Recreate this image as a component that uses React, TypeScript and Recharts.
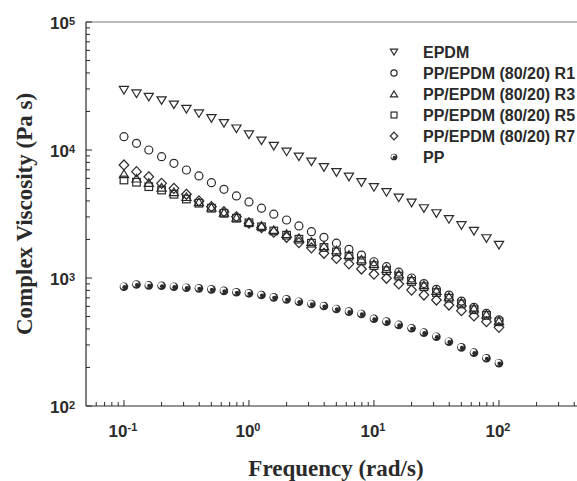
import { ScatterChart, Scatter, XAxis, YAxis, ReferenceLine } from "recharts";

// angular frequency (rad/s), 10 points per decade
const FREQ = [
   0.1, 0.126, 0.158, 0.2, 0.251, 0.316, 0.398, 0.501, 0.631, 0.794,
   1, 1.26, 1.58, 2, 2.51, 3.16, 3.98, 5.01, 6.31, 7.94,
   10, 12.6, 15.8, 20, 25.1, 31.6, 39.8, 50.1, 63.1, 79.4, 100,
];

// complex viscosity (Pa s)
const EPDM = [
   29400, 27600, 26000, 24400, 22600, 20900, 19300, 17700, 16200, 14700,
   13200, 11830, 10750, 9700, 8870, 8110, 7330, 6700, 6180, 5600,
   5120, 4680, 4240, 3870, 3500, 3200, 2880, 2580, 2330, 2040, 1810,
];
const R1 = [
   12700, 11270, 10000, 8870, 7870, 6980, 6270, 5560, 4930, 4380,
   3930, 3510, 3150, 2840, 2550, 2300, 2080, 1870, 1675, 1510,
   1340, 1225, 1110, 1000, 905, 815, 735, 660, 590, 530, 470,
];
const R3 = [
   6500, 6000, 5550, 5100, 4700, 4300, 3920, 3560, 3250, 2970,
   2740, 2560, 2380, 2210, 2060, 1920, 1780, 1650, 1520, 1400,
   1290, 1180, 1070, 970, 880, 795, 715, 645, 580, 520, 462,
];
const R5 = [
   5830, 5600, 5170, 4870, 4510, 4140, 3840, 3510, 3200, 2930,
   2700, 2510, 2330, 2160, 2010, 1870, 1730, 1600, 1480, 1360,
   1250, 1140, 1035, 940, 855, 770, 695, 627, 565, 510, 455,
];
const R7 = [
   7640, 6770, 6180, 5490, 5020, 4510, 4000, 3610, 3300, 3010,
   2680, 2480, 2280, 2080, 1890, 1720, 1560, 1420, 1290, 1175,
   1070, 995, 898, 805, 736, 673, 615, 556, 505, 456, 412,
];
const PP = [
   855, 890, 875, 870, 855, 840, 830, 815, 793, 773,
   759, 736, 706, 681, 653, 627, 604, 573, 546, 524,
   480, 456, 430, 405, 374, 348, 318, 287, 261, 236, 216,
];

const X_MAJOR = [0.1, 1, 10, 100];
const X_TICKS = [
   0.06, 0.07, 0.08, 0.09, 0.1, 0.2, 0.3, 0.4, 0.5, 0.6, 0.7, 0.8, 0.9, 1,
   2, 3, 4, 5, 6, 7, 8, 9, 10, 20, 30, 40, 50, 60, 70, 80, 90, 100, 200, 300, 400,
];
const Y_MAJOR = [100, 1000, 10000, 100000];
const Y_TICKS = [
   100, 200, 300, 400, 500, 600, 700, 800, 900, 1000,
   2000, 3000, 4000, 5000, 6000, 7000, 8000, 9000, 10000,
   20000, 30000, 40000, 50000, 60000, 70000, 80000, 90000, 100000,
];

type Kind = "triDown" | "circle" | "triUp" | "square" | "diamond" | "ball";

const SERIES: { name: string; values: number[]; kind: Kind }[] = [
   { name: "EPDM", values: EPDM, kind: "triDown" },
   { name: "PP/EPDM (80/20) R1", values: R1, kind: "circle" },
   { name: "PP/EPDM (80/20) R3", values: R3, kind: "triUp" },
   { name: "PP/EPDM (80/20) R5", values: R5, kind: "square" },
   { name: "PP/EPDM (80/20) R7", values: R7, kind: "diamond" },
   { name: "PP", values: PP, kind: "ball" },
];

const INK = "#2a2a2a";
const SANS = "'Liberation Sans', Arial, sans-serif";
const SERIF = "'Liberation Serif', 'Times New Roman', serif";

function Marker({ kind, cx, cy, k = 1 }: { kind: Kind; cx: number; cy: number; k?: number }) {
   const sw = 1.2;
   switch (kind) {
      case "triDown":
         return (
            <path
               d={`M${cx - 4.6 * k},${cy - 3.6 * k} L${cx + 4.6 * k},${cy - 3.6 * k} L${cx},${cy + 4 * k} Z`}
               fill="none" stroke={INK} strokeWidth={sw}
            />
         );
      case "triUp":
         return (
            <path
               d={`M${cx - 4.6 * k},${cy + 3.6 * k} L${cx + 4.6 * k},${cy + 3.6 * k} L${cx},${cy - 4 * k} Z`}
               fill="none" stroke={INK} strokeWidth={sw}
            />
         );
      case "circle":
         return <circle cx={cx} cy={cy} r={4 * k} fill="none" stroke={INK} strokeWidth={sw} />;
      case "square":
         return (
            <rect x={cx - 3.8 * k} y={cy - 3.8 * k} width={7.6 * k} height={7.6 * k}
               fill="none" stroke={INK} strokeWidth={sw} />
         );
      case "diamond":
         return (
            <path
               d={`M${cx},${cy - 5 * k} L${cx + 4.8 * k},${cy} L${cx},${cy + 5 * k} L${cx - 4.8 * k},${cy} Z`}
               fill="none" stroke={INK} strokeWidth={sw}
            />
         );
      default:
         return (
            <g>
               <circle cx={cx} cy={cy} r={4.3 * k} fill={INK} />
               <circle cx={cx - 0.7 * k} cy={cy - 0.7 * k} r={2.9 * k} fill="#fff" />
               <circle cx={cx + 0.5 * k} cy={cy + 0.5 * k} r={2.1 * k} fill={INK} />
            </g>
         );
   }
}

function XTick(props: any) {
   const { x, y, payload } = props;
   const v = payload.value as number;
   const major = X_MAJOR.includes(v);
   return (
      <g>
         <line x1={x} x2={x} y1={y} y2={y - (major ? 6 : 4)} stroke={INK} strokeWidth={1} />
         {major && (
            <text x={x - 1} y={y + 31} textAnchor="middle" fontFamily={SANS} fontWeight="bold"
               fontSize={17} fill={INK}>
               10<tspan dy={-6} fontSize={11}>{Math.round(Math.log10(v))}</tspan>
            </text>
         )}
      </g>
   );
}

function YTick(props: any) {
   const { x, y, payload } = props;
   const v = payload.value as number;
   const major = Y_MAJOR.includes(v);
   return (
      <g>
         <line x1={x} x2={x + (major ? 6 : 4)} y1={y} y2={y} stroke={INK} strokeWidth={1} />
         {major && (
            <text x={x - 11} y={y + 6.5} textAnchor="end" fontFamily={SANS} fontWeight="bold"
               fontSize={17} fill={INK}>
               10<tspan dy={-4} fontSize={11}>{Math.round(Math.log10(v))}</tspan>
            </text>
         )}
      </g>
   );
}

export default function App() {
   return (
      <div style={{ position: "absolute", left: 0, top: 0, width: 577, height: 481, background: "#fff" }}>
         <ScatterChart width={577} height={481} margin={{ top: 22, right: 0, bottom: 0, left: 0 }}>
            <XAxis
               dataKey="x" type="number" scale="log" domain={[0.0497, 421]} allowDataOverflow
               ticks={X_TICKS} interval={0} tick={<XTick />} tickLine={false}
               tickSize={0} tickMargin={0} height={75} axisLine={{ stroke: INK, strokeWidth: 1.2 }}
            />
            <YAxis
               dataKey="y" type="number" scale="log" domain={[100, 100000]} allowDataOverflow
               ticks={Y_TICKS} interval={0} tick={<YTick />} tickLine={false}
               tickSize={0} tickMargin={0} width={86} axisLine={{ stroke: INK, strokeWidth: 1.2 }}
            />
            <ReferenceLine y={100000} stroke="#777" strokeWidth={1.2} />
            {SERIES.map((s) => (
               <Scatter
                  key={s.name}
                  name={s.name}
                  data={FREQ.map((f, i) => ({ x: f, y: s.values[i] }))}
                  isAnimationActive={false}
                  shape={(p: any) => <Marker kind={s.kind} cx={p.cx} cy={p.cy} />}
               />
            ))}
         </ScatterChart>
         <svg width={577} height={481} style={{ position: "absolute", left: 0, top: 0, pointerEvents: "none" }}>
            {SERIES.map((s, i) => (
               <g key={s.name}>
                  <Marker kind={s.kind} cx={394} cy={52 + i * 21} k={0.78} />
                  <text x={423} y={52 + i * 21 + 5.8} fontFamily={SANS} fontWeight="bold" fontSize={16} fill={INK}>
                     {s.name}
                  </text>
               </g>
            ))}
            <text x={32} y={214} transform="rotate(-90 32 214)" textAnchor="middle" fontFamily={SERIF}
               fontWeight="bold" fontSize={23} fill={INK}>
               Complex Viscosity (Pa s)
            </text>
            <text x={336} y={476} textAnchor="middle" fontFamily={SERIF} fontWeight="bold" fontSize={23} fill={INK}>
               Frequency (rad/s)
            </text>
         </svg>
      </div>
   );
}
